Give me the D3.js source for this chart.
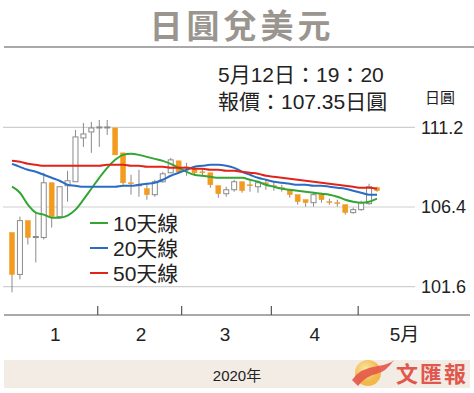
<!DOCTYPE html>
<html><head><meta charset="utf-8">
<script src="https://cdn.jsdelivr.net/npm/d3@7"></script>
<style>
html,body{margin:0;padding:0;background:#fff;}
svg{display:block;font-family:"Liberation Sans","Noto Sans CJK TC",sans-serif;}
</style></head>
<body>
<svg id="c" width="474" height="393"></svg>
<script>
// ---- data ----
const opens  = [104.86,102.34,105.58,104.56,104.56,107.86,105.82,107.68,107.92,110.56,110.92,111.19,111.16,111.16,109.66,107.86,107.68,107.50,107.14,107.92,108.46,109.18,108.82,108.70,108.52,108.46,107.68,107.20,107.44,107.92,107.74,107.62,107.86,107.68,107.56,107.44,107.14,106.84,106.66,107.14,106.72,106.66,106.54,106.06,106.24,106.60,107.56];
const closes = [102.34,105.58,104.56,104.62,107.86,105.82,107.62,107.98,110.62,110.80,111.16,111.22,111.22,109.54,107.86,107.84,107.74,107.14,107.92,108.40,109.24,108.52,108.80,108.46,108.50,107.74,107.20,107.44,107.92,107.38,107.72,107.86,107.84,107.66,107.54,107.14,106.72,106.66,107.14,106.84,106.70,106.64,106.06,106.24,106.66,107.62,107.38];
const highs  = [104.86,105.82,105.58,106.06,108.46,107.86,107.62,108.58,111.04,111.46,111.52,111.64,111.64,111.16,109.66,108.34,108.64,107.86,108.04,108.52,109.36,109.18,109.06,108.82,108.70,108.46,107.68,107.62,108.04,107.92,107.98,107.98,108.04,107.92,107.74,107.44,107.14,106.84,107.32,107.26,106.90,106.84,106.54,106.36,106.78,107.80,107.62];
const lows   = [101.26,102.04,104.14,103.06,104.44,105.16,105.82,106.72,107.92,110.02,109.66,110.02,110.74,109.54,107.74,107.14,107.02,106.84,107.02,107.86,108.46,108.40,108.28,108.28,108.28,107.56,106.96,107.02,107.32,107.26,107.32,107.26,107.44,107.38,107.32,106.96,106.54,106.42,106.42,106.66,106.54,106.42,105.94,106.00,106.18,106.54,107.32];
const ma10 = [107.62,107.26,106.54,106.06,105.94,105.76,105.76,105.88,106.24,106.84,107.50,108.16,108.76,109.24,109.54,109.60,109.54,109.42,109.30,109.18,109.00,108.76,108.52,108.34,108.28,108.22,108.16,108.16,108.16,108.16,108.04,107.92,107.74,107.62,107.50,107.44,107.38,107.32,107.26,107.20,107.14,107.02,106.84,106.72,106.66,106.72,106.90];
const ma20 = [109.00,108.82,108.64,108.52,108.34,108.16,107.98,107.74,107.68,107.62,107.62,107.62,107.62,107.62,107.68,107.68,107.74,107.80,107.86,108.04,108.28,108.46,108.64,108.82,108.88,108.94,108.94,108.88,108.76,108.52,108.34,108.16,108.04,107.92,107.86,107.80,107.74,107.74,107.68,107.68,107.62,107.56,107.50,107.38,107.26,107.14,107.14];
const ma50 = [109.18,109.12,109.00,108.94,108.88,108.88,108.88,108.88,108.88,108.88,108.88,108.88,108.94,108.94,108.94,108.88,108.88,108.82,108.82,108.82,108.76,108.76,108.76,108.70,108.70,108.64,108.64,108.58,108.58,108.52,108.46,108.40,108.28,108.22,108.16,108.10,108.04,107.98,107.92,107.86,107.80,107.74,107.68,107.62,107.56,107.56,107.50];
const yTicks = [101.6, 106.4, 111.2];
const monthTicks = ["2020-02-01","2020-03-01","2020-04-01","2020-05-01"];
const monthLabels = ["1","2","3","4","5月"];
const legendNames = ["10天線","20天線","50天線"];
const title = "日圓兌美元";
const infoLines = ["5月12日：19：20","報價：107.35日圓"];
const unitLabel = "日圓";
const yearLabel = "2020年";

// ---- drawing ----
const svg = d3.select("#c");
const idx = d3.range(opens.length);
const x = d3.scalePoint().domain(idx).range([12, 377]);
const y = d3.scaleLinear().domain([101.6, 111.2]).range([286.7, 127.3]);
const xt = d3.scaleUtc().domain([new Date("2020-01-01"), new Date("2020-05-31")]).range([8, 445]);

// title
svg.append("text").attr("x", 242).attr("y", 38).attr("text-anchor", "middle")
  .attr("font-size", 33).attr("font-weight", "bold").attr("fill", "#9a958f")
  .attr("letter-spacing", 4)
  .attr("font-family", "'Noto Sans CJK TC',sans-serif").text(title);
svg.append("line").attr("x1", 4).attr("x2", 474).attr("y1", 47).attr("y2", 47)
  .attr("stroke", "#a9a9a9").attr("stroke-width", 2);

// info text
svg.selectAll("text.info").data(infoLines).join("text").attr("class", "info")
  .attr("x", 218).attr("y", (d, i) => 82 + i * 27).attr("font-size", 21)
  .attr("fill", "#222").text(d => d);
svg.append("text").attr("x", 425).attr("y", 103).attr("font-size", 15).attr("fill", "#222").text(unitLabel);

// gridlines & y labels
const gy = svg.append("g");
gy.selectAll("line").data(yTicks).join("line")
  .attr("x1", 3).attr("x2", 415).attr("y1", d => y(d)).attr("y2", d => y(d))
  .attr("stroke", "#cfcfcf").attr("stroke-width", 1.2);
gy.selectAll("text").data(yTicks).join("text")
  .attr("x", 421).attr("y", d => y(d)).attr("dy", "0.36em").attr("font-size", 18)
  .attr("fill", "#222").text(d => d3.format(".1f")(d));

// candles
const cg = svg.append("g");
const bw = 5;
idx.forEach(i => {
  const cx = x(i);
  const up = closes[i] >= opens[i];
  const col = up ? "#8a8a8a" : "#f29b1f";
  cg.append("line").attr("x1", cx).attr("x2", cx).attr("y1", y(highs[i])).attr("y2", y(lows[i]))
    .attr("stroke", "#8a8a8a").attr("stroke-width", 1);
  const top = y(Math.max(opens[i], closes[i])), bot = y(Math.min(opens[i], closes[i]));
  const h = Math.max(bot - top, 1);
  cg.append("rect").attr("x", cx - bw / 2).attr("y", top).attr("width", bw).attr("height", h)
    .attr("fill", up ? "#fff" : "#f29b1f").attr("stroke", col).attr("stroke-width", up ? 1 : 0.5);
});

// moving averages
const line = d3.line().x((d, i) => x(i)).y(d => y(d)).curve(d3.curveMonotoneX);
const maColors = ["#33a532", "#2a6cc4", "#e2231a"];
[ma10, ma20, ma50].forEach((s, k) => {
  svg.append("path").attr("d", line(s)).attr("fill", "none")
    .attr("stroke", maColors[k]).attr("stroke-width", 2);
});

// legend
const lg = svg.append("g");
legendNames.forEach((n, k) => {
  const ly = 223 + k * 25;
  lg.append("line").attr("x1", 90).attr("x2", 108).attr("y1", ly).attr("y2", ly)
    .attr("stroke", maColors[k]).attr("stroke-width", 2);
  lg.append("text").attr("x", 113).attr("y", ly).attr("dy", "0.36em").attr("font-size", 21)
    .attr("fill", "#222").text(n);
});

// x axis
svg.append("line").attr("x1", 4).attr("x2", 470).attr("y1", 315).attr("y2", 315)
  .attr("stroke", "#555").attr("stroke-width", 1.2);
svg.selectAll("line.mt").data(monthTicks).join("line").attr("class", "mt")
  .attr("x1", d => xt(new Date(d))).attr("x2", d => xt(new Date(d)))
  .attr("y1", 306).attr("y2", 315).attr("stroke", "#555").attr("stroke-width", 1.2);
svg.selectAll("text.ml").data(monthLabels).join("text").attr("class", "ml")
  .attr("x", (d, i) => xt(new Date(Date.UTC(2020, i, 16))) + (i === 0 ? 4 : 0) + (i === 4 ? 3 : 0))
  .attr("y", 341).attr("text-anchor", "middle").attr("font-size", 19).attr("fill", "#222").text(d => d);

// year band
svg.append("rect").attr("x", 4).attr("y", 360).attr("width", 466).attr("height", 28).attr("fill", "#f3ece5");
svg.append("text").attr("x", 237).attr("y", 381).attr("text-anchor", "middle").attr("font-size", 15)
  .attr("fill", "#222").text(yearLabel);

// logo
const defs = svg.append("defs");
const gr = defs.append("radialGradient").attr("id", "lg").attr("cx", "40%").attr("cy", "35%");
gr.append("stop").attr("offset", "0%").attr("stop-color", "#fbe79a");
gr.append("stop").attr("offset", "100%").attr("stop-color", "#f2b23a");
svg.append("circle").attr("cx", 368).attr("cy", 373).attr("r", 13).attr("fill", "url(#lg)").attr("opacity", 0.9);
svg.append("path").attr("d", "M352,380 Q360,368 378,366 Q390,364 394,360 Q386,372 376,374 Q366,376 358,386 Z")
  .attr("fill", "#e4564a").attr("opacity", 0.9);
svg.append("text").attr("x", 396).attr("y", 382).attr("font-size", 22).attr("font-weight", "bold")
  .attr("fill", "#e0574e").attr("letter-spacing", 2)
  .attr("font-family", "'Noto Sans CJK TC',serif").text("文匯報");
</script>
</body></html>
